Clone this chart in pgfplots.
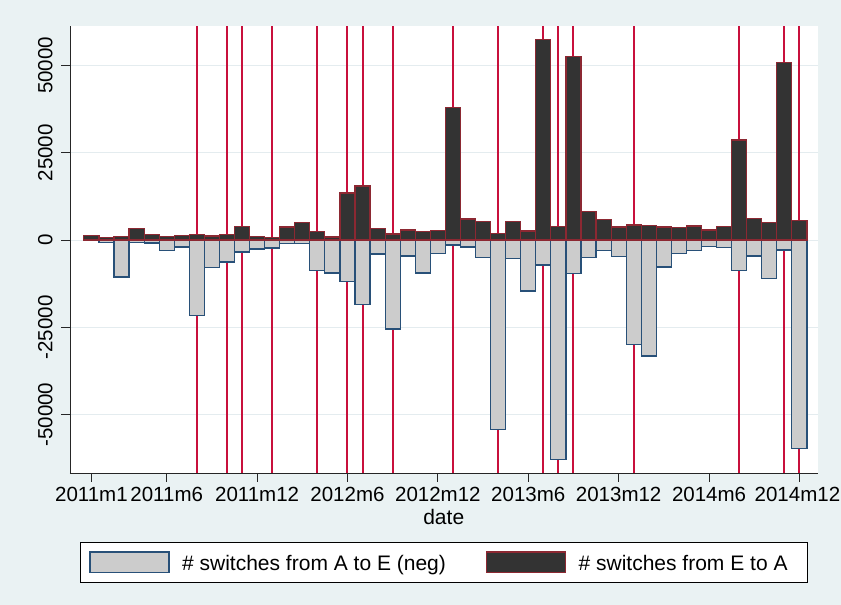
\documentclass[border=0pt]{standalone}
\usepackage{pgfplots}
\usepackage{pgfplotstable}
\pgfplotsset{compat=1.18}
\usepackage{fontspec}
\setmainfont{Liberation Sans}
\definecolor{bgc}{RGB}{234,242,243}
\definecolor{gridc}{RGB}{228,236,239}
\definecolor{lightfill}{RGB}{204,204,204}
\definecolor{lightedge}{RGB}{40,80,120}
\definecolor{darkfill}{RGB}{51,51,51}
\definecolor{darkedge}{RGB}{140,40,50}
\definecolor{vline}{RGB}{200,16,60}

\pgfplotstableread{
m pos neg
0 1250 -200
1 670 -770
2 950 -10600
3 3250 -770
4 1620 -860
5 950 -3050
6 1340 -2000
7 1620 -21670
8 1150 -7830
9 1530 -6300
10 3910 -3440
11 1050 -2580
12 760 -2290
13 3720 -950
14 5060 -950
15 2390 -8780
16 860 -9450
17 13460 -11840
18 15470 -18420
19 3340 -4010
20 1720 -25490
21 2860 -4580
22 2390 -9450
23 2770 -3820
24 37900 -1430
25 6010 -2000
26 5250 -4960
27 1810 -54320
28 5350 -5250
29 2580 -14610
30 57380 -7160
31 3910 -62910
32 52510 -9550
33 8210 -4960
34 5820 -3050
35 3720 -4680
36 4300 -29790
37 4110 -33220
38 3720 -7730
39 3630 -3910
40 4010 -3050
41 2860 -1910
42 3820 -2100
43 28640 -8690
44 6200 -4580
45 5060 -10980
46 50790 -2860
47 5630 -59760
}\datatable

\pgfplotstableread{
m y
7 -70000
7 70000
nan nan
9 -70000
9 70000
nan nan
10 -70000
10 70000
nan nan
12 -70000
12 70000
nan nan
15 -70000
15 70000
nan nan
17 -70000
17 70000
nan nan
18 -70000
18 70000
nan nan
20 -70000
20 70000
nan nan
24 -70000
24 70000
nan nan
27 -70000
27 70000
nan nan
30 -70000
30 70000
nan nan
31 -70000
31 70000
nan nan
32 -70000
32 70000
nan nan
36 -70000
36 70000
nan nan
43 -70000
43 70000
nan nan
46 -70000
46 70000
nan nan
47 -70000
47 70000
}\linetable

\begin{document}
\begin{tikzpicture}[font=\fontsize{21}{25}\selectfont]
\fill[bgc] (-70pt,-132pt) rectangle (771pt,473pt);
\begin{axis}[
  at={(0pt,0pt)}, anchor=south west,
  scale only axis, width=747.5pt, height=447pt,
  xmin=-1.42, xmax=48.2, ymin=-66700, ymax=61300,
  axis x line*=bottom, axis y line*=left,
  axis line style={black!85, line width=0.9pt},
  axis background/.style={fill=white},
  tick align=outside, major tick length=8.5pt,
  tick style={black!85, line width=0.9pt},
  tick label style={font=\fontsize{20.5}{24}\selectfont},
  xtick={0,5,11,17,23,29,35,41,47},
  xticklabels={2011m1,2011m6,2011m12,2012m6,2012m12,2013m6,2013m12,2014m6,\hspace*{-4pt}2014m12},
  ytick={-50000,-25000,0,25000,50000},
  yticklabels={-50000,-25000,0,25000,50000},
  scaled y ticks=false,
  ymajorgrids, grid style={gridc, line width=1.1pt},
  xticklabel style={anchor=north, inner sep=0pt},
  xticklabel shift=5.8pt,
  yticklabel style={rotate=90, anchor=south, inner sep=0pt},
  yticklabel shift=8.8pt,
  xlabel={date},
  xlabel style={at={(axis description cs:0.5,0)}, anchor=base, inner sep=0pt, yshift=-51pt},
  legend columns=2,
  legend style={at={(0.5,-0.15369)}, anchor=north, draw=black, line width=0.9pt, fill=white,
    inner xsep=9pt, inner ysep=9.3pt, column sep=0pt,
    nodes={inner sep=0pt, text depth=1.85pt},
    cells={anchor=base west},
    font=\fontsize{21}{25}\selectfont},
]
\addplot[vline, line width=2pt, unbounded coords=jump, forget plot] table[x=m, y=y] {\linetable};
\addplot[ybar, bar width=1, bar shift=0pt, fill=lightfill, draw=lightedge, line width=1.2pt,
  legend image code/.code={\draw[fill=lightfill, draw=lightedge, line width=1.2pt] (0pt,-1.85pt) rectangle (79pt,18.45pt); \path (91.6pt,0pt);}]
  table[x=m, y=neg] {\datatable};
\addlegendentry{\makebox[303.7pt][l]{\# switches from A to E (neg)}}
\addplot[ybar, bar width=1, bar shift=0pt, fill=darkfill, draw=darkedge, line width=1.2pt,
  legend image code/.code={\draw[fill=darkfill, draw=darkedge, line width=1.2pt] (0pt,-1.85pt) rectangle (79pt,18.45pt); \path (91.6pt,0pt);}]
  table[x=m, y=pos] {\datatable};
\addlegendentry{\makebox[219.5pt][l]{\# switches from E to A}}
\end{axis}
\pgfresetboundingbox
\useasboundingbox (-70pt,-132pt) rectangle (771pt,473pt);
\end{tikzpicture}
\end{document}
